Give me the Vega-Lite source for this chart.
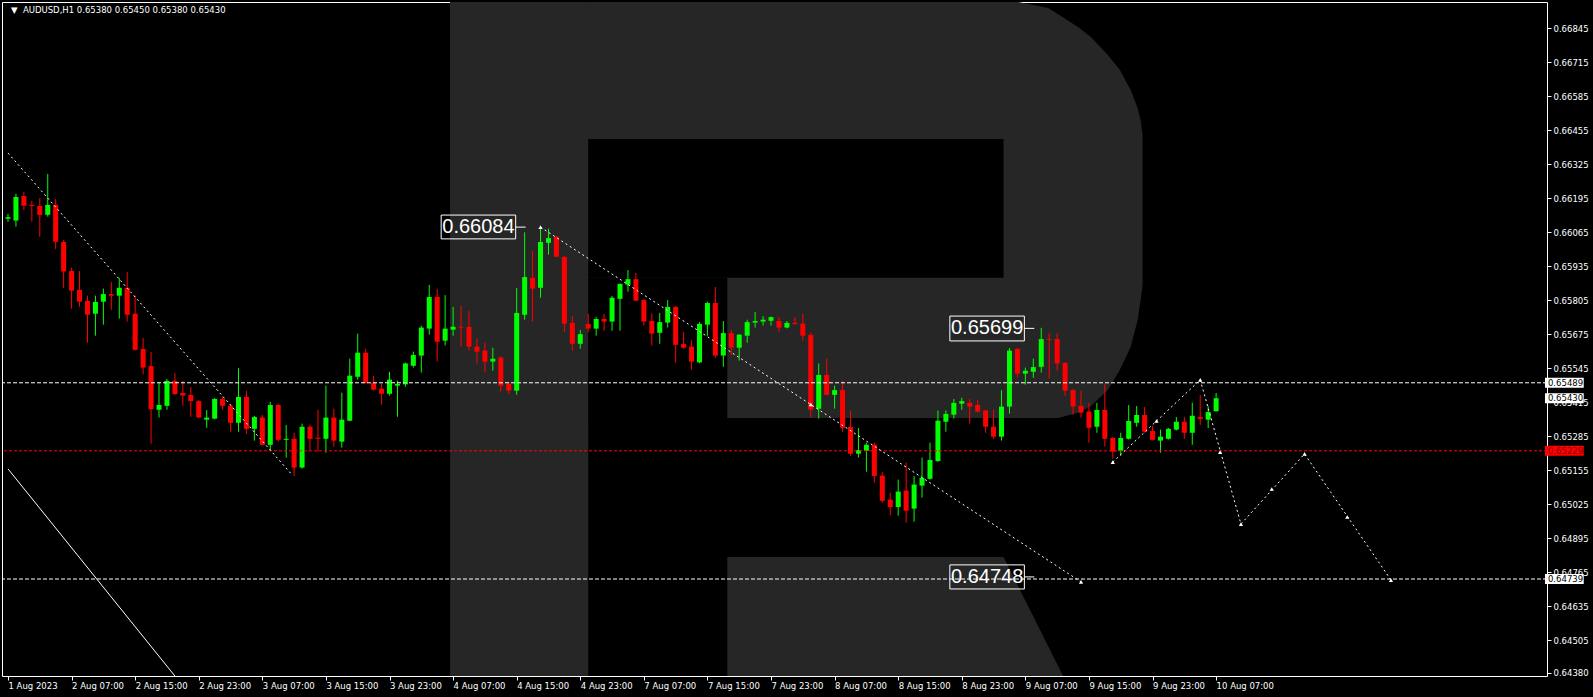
{
"$schema": "https://vega.github.io/schema/vega-lite/v6.json",
"width": 1545, "height": 674,
"autosize": {"type": "none"},
"padding": {"left": 2, "top": 2, "right": 46, "bottom": 21},
"background": "#000000",
"config": {"view": {"stroke": "#ffffff", "strokeWidth": 1},
 "axis": {"labelColor":"#ffffff","tickColor":"#ffffff","tickSize":4,"labelFont":"DejaVu Sans","labelFontSize":8.5,"domain":false,"grid":false,"labelOverlap":false,"labelFlush":false,"titleFontSize":0}},
"datasets": {
"candles": [
{"i":0,"o":0.66116,"h":0.66134,"l":0.66104,"c":0.66122},
{"i":1,"o":0.66109,"h":0.66211,"l":0.66086,"c":0.66199},
{"i":2,"o":0.66203,"h":0.66218,"l":0.66149,"c":0.66166},
{"i":3,"o":0.66169,"h":0.66184,"l":0.66105,"c":0.66165},
{"i":4,"o":0.66165,"h":0.66195,"l":0.66047,"c":0.66131},
{"i":5,"o":0.66131,"h":0.66287,"l":0.66124,"c":0.66169},
{"i":6,"o":0.66169,"h":0.66191,"l":0.66000,"c":0.66028},
{"i":7,"o":0.66027,"h":0.66035,"l":0.65852,"c":0.65914},
{"i":8,"o":0.65916,"h":0.65929,"l":0.65772,"c":0.65841},
{"i":9,"o":0.65844,"h":0.65916,"l":0.65780,"c":0.65799},
{"i":10,"o":0.65802,"h":0.65822,"l":0.65642,"c":0.65749},
{"i":11,"o":0.65753,"h":0.65822,"l":0.65669,"c":0.65798},
{"i":12,"o":0.65799,"h":0.65849,"l":0.65711,"c":0.65828},
{"i":13,"o":0.65828,"h":0.65874,"l":0.65768,"c":0.65822},
{"i":14,"o":0.65822,"h":0.65890,"l":0.65734,"c":0.65852},
{"i":15,"o":0.65852,"h":0.65912,"l":0.65723,"c":0.65749},
{"i":16,"o":0.65753,"h":0.65823,"l":0.65612,"c":0.65615},
{"i":17,"o":0.65618,"h":0.65660,"l":0.65521,"c":0.65547},
{"i":18,"o":0.65553,"h":0.65607,"l":0.65256,"c":0.65388},
{"i":19,"o":0.65386,"h":0.65492,"l":0.65356,"c":0.65404},
{"i":20,"o":0.65401,"h":0.65504,"l":0.65386,"c":0.65496},
{"i":21,"o":0.65496,"h":0.65526,"l":0.65443,"c":0.65446},
{"i":22,"o":0.65450,"h":0.65496,"l":0.65401,"c":0.65440},
{"i":23,"o":0.65442,"h":0.65473,"l":0.65359,"c":0.65419},
{"i":24,"o":0.65419,"h":0.65423,"l":0.65354,"c":0.65356},
{"i":25,"o":0.65348,"h":0.65385,"l":0.65317,"c":0.65356},
{"i":26,"o":0.65352,"h":0.65431,"l":0.65349,"c":0.65427},
{"i":27,"o":0.65427,"h":0.65435,"l":0.65386,"c":0.65401},
{"i":28,"o":0.65400,"h":0.65408,"l":0.65302,"c":0.65336},
{"i":29,"o":0.65336,"h":0.65545,"l":0.65302,"c":0.65435},
{"i":30,"o":0.65435,"h":0.65458,"l":0.65294,"c":0.65313},
{"i":31,"o":0.65313,"h":0.65362,"l":0.65268,"c":0.65358},
{"i":32,"o":0.65356,"h":0.65366,"l":0.65250,"c":0.65252},
{"i":33,"o":0.65252,"h":0.65416,"l":0.65229,"c":0.65404},
{"i":34,"o":0.65404,"h":0.65408,"l":0.65264,"c":0.65271},
{"i":35,"o":0.65271,"h":0.65328,"l":0.65203,"c":0.65275},
{"i":36,"o":0.65275,"h":0.65298,"l":0.65133,"c":0.65165},
{"i":37,"o":0.65165,"h":0.65333,"l":0.65161,"c":0.65321},
{"i":38,"o":0.65321,"h":0.65329,"l":0.65232,"c":0.65275},
{"i":39,"o":0.65279,"h":0.65386,"l":0.65226,"c":0.65275},
{"i":40,"o":0.65275,"h":0.65478,"l":0.65222,"c":0.65356},
{"i":41,"o":0.65356,"h":0.65390,"l":0.65245,"c":0.65268},
{"i":42,"o":0.65264,"h":0.65451,"l":0.65241,"c":0.65348},
{"i":43,"o":0.65344,"h":0.65581,"l":0.65342,"c":0.65516},
{"i":44,"o":0.65512,"h":0.65677,"l":0.65501,"c":0.65604},
{"i":45,"o":0.65604,"h":0.65619,"l":0.65486,"c":0.65488},
{"i":46,"o":0.65489,"h":0.65516,"l":0.65459,"c":0.65463},
{"i":47,"o":0.65466,"h":0.65485,"l":0.65405,"c":0.65447},
{"i":48,"o":0.65447,"h":0.65531,"l":0.65440,"c":0.65501},
{"i":49,"o":0.65478,"h":0.65497,"l":0.65359,"c":0.65485},
{"i":50,"o":0.65483,"h":0.65566,"l":0.65474,"c":0.65563},
{"i":51,"o":0.65554,"h":0.65608,"l":0.65547,"c":0.65595},
{"i":52,"o":0.65593,"h":0.65707,"l":0.65528,"c":0.65700},
{"i":53,"o":0.65696,"h":0.65863,"l":0.65673,"c":0.65817},
{"i":54,"o":0.65817,"h":0.65847,"l":0.65570,"c":0.65646},
{"i":55,"o":0.65650,"h":0.65824,"l":0.65632,"c":0.65696},
{"i":56,"o":0.65692,"h":0.65779,"l":0.65669,"c":0.65703},
{"i":57,"o":0.65703,"h":0.65783,"l":0.65627,"c":0.65700},
{"i":58,"o":0.65703,"h":0.65763,"l":0.65612,"c":0.65627},
{"i":59,"o":0.65627,"h":0.65658,"l":0.65563,"c":0.65608},
{"i":60,"o":0.65612,"h":0.65641,"l":0.65528,"c":0.65570},
{"i":61,"o":0.65570,"h":0.65623,"l":0.65535,"c":0.65581},
{"i":62,"o":0.65585,"h":0.65591,"l":0.65455,"c":0.65478},
{"i":63,"o":0.65485,"h":0.65493,"l":0.65447,"c":0.65459},
{"i":64,"o":0.65459,"h":0.65851,"l":0.65443,"c":0.65756},
{"i":65,"o":0.65749,"h":0.66064,"l":0.65730,"c":0.65893},
{"i":66,"o":0.65890,"h":0.65993,"l":0.65723,"c":0.65849},
{"i":67,"o":0.65852,"h":0.66084,"l":0.65814,"c":0.66027},
{"i":68,"o":0.66024,"h":0.66078,"l":0.65979,"c":0.66042},
{"i":69,"o":0.66047,"h":0.66052,"l":0.65969,"c":0.65971},
{"i":70,"o":0.65970,"h":0.65974,"l":0.65684,"c":0.65715},
{"i":71,"o":0.65718,"h":0.65744,"l":0.65612,"c":0.65638},
{"i":72,"o":0.65638,"h":0.65691,"l":0.65619,"c":0.65675},
{"i":73,"o":0.65714,"h":0.65752,"l":0.65684,"c":0.65696},
{"i":74,"o":0.65696,"h":0.65740,"l":0.65669,"c":0.65733},
{"i":75,"o":0.65733,"h":0.65752,"l":0.65688,"c":0.65723},
{"i":76,"o":0.65723,"h":0.65821,"l":0.65688,"c":0.65814},
{"i":77,"o":0.65810,"h":0.65868,"l":0.65688,"c":0.65867},
{"i":78,"o":0.65864,"h":0.65920,"l":0.65837,"c":0.65885},
{"i":79,"o":0.65885,"h":0.65909,"l":0.65801,"c":0.65803},
{"i":80,"o":0.65805,"h":0.65809,"l":0.65708,"c":0.65723},
{"i":81,"o":0.65725,"h":0.65754,"l":0.65631,"c":0.65677},
{"i":82,"o":0.65680,"h":0.65756,"l":0.65638,"c":0.65721},
{"i":83,"o":0.65719,"h":0.65805,"l":0.65700,"c":0.65779},
{"i":84,"o":0.65779,"h":0.65783,"l":0.65566,"c":0.65634},
{"i":85,"o":0.65637,"h":0.65683,"l":0.65619,"c":0.65623},
{"i":86,"o":0.65627,"h":0.65652,"l":0.65539,"c":0.65570},
{"i":87,"o":0.65567,"h":0.65721,"l":0.65564,"c":0.65714},
{"i":88,"o":0.65711,"h":0.65799,"l":0.65669,"c":0.65794},
{"i":89,"o":0.65794,"h":0.65855,"l":0.65585,"c":0.65593},
{"i":90,"o":0.65593,"h":0.65725,"l":0.65550,"c":0.65679},
{"i":91,"o":0.65679,"h":0.65691,"l":0.65593,"c":0.65623},
{"i":92,"o":0.65623,"h":0.65675,"l":0.65574,"c":0.65673},
{"i":93,"o":0.65669,"h":0.65730,"l":0.65642,"c":0.65721},
{"i":94,"o":0.65719,"h":0.65760,"l":0.65700,"c":0.65725},
{"i":95,"o":0.65723,"h":0.65744,"l":0.65708,"c":0.65730},
{"i":96,"o":0.65726,"h":0.65742,"l":0.65708,"c":0.65740},
{"i":97,"o":0.65725,"h":0.65740,"l":0.65684,"c":0.65700},
{"i":98,"o":0.65700,"h":0.65725,"l":0.65697,"c":0.65718},
{"i":99,"o":0.65718,"h":0.65740,"l":0.65711,"c":0.65713},
{"i":100,"o":0.65715,"h":0.65753,"l":0.65650,"c":0.65669},
{"i":101,"o":0.65672,"h":0.65680,"l":0.65356,"c":0.65386},
{"i":102,"o":0.65390,"h":0.65563,"l":0.65352,"c":0.65519},
{"i":103,"o":0.65519,"h":0.65581,"l":0.65441,"c":0.65443},
{"i":104,"o":0.65443,"h":0.65478,"l":0.65390,"c":0.65461},
{"i":105,"o":0.65461,"h":0.65496,"l":0.65302,"c":0.65317},
{"i":106,"o":0.65320,"h":0.65381,"l":0.65210,"c":0.65218},
{"i":107,"o":0.65218,"h":0.65316,"l":0.65203,"c":0.65232},
{"i":108,"o":0.65229,"h":0.65260,"l":0.65149,"c":0.65252},
{"i":109,"o":0.65252,"h":0.65260,"l":0.65107,"c":0.65133},
{"i":110,"o":0.65134,"h":0.65149,"l":0.65031,"c":0.65038},
{"i":111,"o":0.65042,"h":0.65069,"l":0.64983,"c":0.65014},
{"i":112,"o":0.65014,"h":0.65119,"l":0.64981,"c":0.65073},
{"i":113,"o":0.65077,"h":0.65184,"l":0.64954,"c":0.65000},
{"i":114,"o":0.65008,"h":0.65133,"l":0.64958,"c":0.65100},
{"i":115,"o":0.65096,"h":0.65203,"l":0.65050,"c":0.65125},
{"i":116,"o":0.65122,"h":0.65260,"l":0.65119,"c":0.65194},
{"i":117,"o":0.65190,"h":0.65383,"l":0.65186,"c":0.65344},
{"i":118,"o":0.65340,"h":0.65383,"l":0.65302,"c":0.65370},
{"i":119,"o":0.65367,"h":0.65427,"l":0.65352,"c":0.65412},
{"i":120,"o":0.65409,"h":0.65432,"l":0.65386,"c":0.65419},
{"i":121,"o":0.65412,"h":0.65427,"l":0.65333,"c":0.65398},
{"i":122,"o":0.65404,"h":0.65423,"l":0.65375,"c":0.65379},
{"i":123,"o":0.65383,"h":0.65386,"l":0.65298,"c":0.65321},
{"i":124,"o":0.65321,"h":0.65386,"l":0.65275,"c":0.65283},
{"i":125,"o":0.65283,"h":0.65461,"l":0.65268,"c":0.65398},
{"i":126,"o":0.65398,"h":0.65622,"l":0.65371,"c":0.65612},
{"i":127,"o":0.65618,"h":0.65622,"l":0.65508,"c":0.65524},
{"i":128,"o":0.65524,"h":0.65547,"l":0.65482,"c":0.65535},
{"i":129,"o":0.65531,"h":0.65581,"l":0.65508,"c":0.65549},
{"i":130,"o":0.65550,"h":0.65699,"l":0.65528,"c":0.65656},
{"i":131,"o":0.65656,"h":0.65679,"l":0.65505,"c":0.65653},
{"i":132,"o":0.65656,"h":0.65679,"l":0.65535,"c":0.65563},
{"i":133,"o":0.65565,"h":0.65568,"l":0.65440,"c":0.65459},
{"i":134,"o":0.65461,"h":0.65466,"l":0.65367,"c":0.65398},
{"i":135,"o":0.65401,"h":0.65459,"l":0.65356,"c":0.65375},
{"i":136,"o":0.65379,"h":0.65412,"l":0.65260,"c":0.65317},
{"i":137,"o":0.65321,"h":0.65412,"l":0.65298,"c":0.65385},
{"i":138,"o":0.65385,"h":0.65484,"l":0.65245,"c":0.65275},
{"i":139,"o":0.65278,"h":0.65282,"l":0.65199,"c":0.65226},
{"i":140,"o":0.65229,"h":0.65298,"l":0.65210,"c":0.65278},
{"i":141,"o":0.65275,"h":0.65404,"l":0.65272,"c":0.65343},
{"i":142,"o":0.65336,"h":0.65400,"l":0.65321,"c":0.65366},
{"i":143,"o":0.65366,"h":0.65396,"l":0.65298,"c":0.65302},
{"i":144,"o":0.65305,"h":0.65324,"l":0.65269,"c":0.65271},
{"i":145,"o":0.65268,"h":0.65310,"l":0.65222,"c":0.65283},
{"i":146,"o":0.65275,"h":0.65316,"l":0.65272,"c":0.65313},
{"i":147,"o":0.65310,"h":0.65358,"l":0.65307,"c":0.65340},
{"i":148,"o":0.65340,"h":0.65359,"l":0.65275,"c":0.65298},
{"i":149,"o":0.65298,"h":0.65413,"l":0.65252,"c":0.65363},
{"i":150,"o":0.65358,"h":0.65442,"l":0.65328,"c":0.65351},
{"i":151,"o":0.65348,"h":0.65400,"l":0.65316,"c":0.65377},
{"i":152,"o":0.65380,"h":0.65450,"l":0.65380,"c":0.65430}
],
"bowl": [
{"x":55.625,"t":0.669444,"b":0.65354},
{"x":127.125,"t":0.669444,"b":0.65354},
{"x":130.875,"t":0.66921,"b":0.65354},
{"x":132.125,"t":0.66898,"b":0.65354},
{"x":134.625,"t":0.66849,"b":0.65374},
{"x":136.25,"t":0.66811,"b":0.654},
{"x":138.375,"t":0.66742,"b":0.65461},
{"x":139.875,"t":0.66685,"b":0.65538},
{"x":141.25,"t":0.66608,"b":0.65626},
{"x":142.125,"t":0.66539,"b":0.65729},
{"x":142.5,"t":0.66493,"b":0.65805},
{"x":142.75,"t":0.66436,"b":0.65863}
],
"stem": [{"x":55.625,"x2":73,"t":0.669444,"b":0.643683}],
"holes": [{"x":73,"x2":125.25,"t":0.66421,"b":0.6589},{"x":73,"x2":90.5,"t":0.6589,"b":0.65354}],
"leg": [{"x":90.5,"t":0.64823,"b":0.643683},{"x":125.25,"t":0.64823,"b":0.643683},{"x":132.75,"t":0.643683,"b":0.643683}],
"hwhite": [{"p":0.65489},{"p":0.64739}],
"hred": [{"p":0.65229}],
"dotted": [
{"g":"a","k":0,"x":0,"p":0.66367},{"g":"a","k":1,"x":35.75,"p":0.65137},
{"g":"b","k":0,"x":67,"p":0.66084},{"g":"b","k":1,"x":135,"p":0.64728},
{"g":"c","k":0,"x":139,"p":0.65186},{"g":"c","k":1,"x":150,"p":0.655},{"g":"c","k":2,"x":155.125,"p":0.64949},{"g":"c","k":3,"x":163.125,"p":0.65217},{"g":"c","k":4,"x":174,"p":0.64735}
],
"solid": [{"k":0,"x":0,"p":0.6516},{"k":1,"x":21,"p":0.643683}],
"markers": [
{"x":67,"p":0.66084},{"x":101,"p":0.65406},{"x":135,"p":0.64728},
{"x":139,"p":0.65186},{"x":144.5,"p":0.65343},{"x":150,"p":0.655},{"x":152.5,"p":0.65224},{"x":155.125,"p":0.64949},{"x":159,"p":0.65083},{"x":163.125,"p":0.65217},{"x":168.5,"p":0.64976},{"x":174,"p":0.64735}
],
"boxes": [
{"x":54.5,"x2":63.875,"t":0.6613,"b":0.66039,"xc":59.19,"p":0.66084,"cx":63.875,"cx2":65.125,"label":"0.66084"},
{"x":118.5,"x2":127.875,"t":0.65744,"b":0.65649,"xc":123.19,"p":0.65697,"cx":127.875,"cx2":129.125,"label":"0.65699"},
{"x":118.5,"x2":127.875,"t":0.64793,"b":0.64701,"xc":123.19,"p":0.64747,"cx":127.875,"cx2":129.125,"label":"0.64748"}
],
"axisw": [
{"p":0.65489,"t":0.65508,"b":0.6547,"label":"0.65489"},
{"p":0.6543,"t":0.65449,"b":0.65411,"label":"0.65430"},
{"p":0.64739,"t":0.64758,"b":0.6472,"label":"0.64739"}
],
"axisr": [{"p":0.65229,"t":0.65248,"b":0.6521,"label":"0.65229"}],
"header": [
{"x":0.375,"p":0.66912,"label":"▼"},
{"x":1.875,"p":0.66912,"label":"AUDUSD,H1  0.65380 0.65450 0.65380 0.65430"}
]
},
"resolve": {"axis": {"x": "independent", "y": "independent"}},
"layer": [
{"data":{"name":"bowl"},"mark":{"type":"area","color":"#262626"},
 "encoding":{"x":{"field":"x","type":"quantitative","scale":{"domain":[-0.125,193],"nice":false,"zero":false},"axis":null},
 "y":{"field":"t","type":"quantitative","scale":{"domain":[0.643683,0.669444],"nice":false,"zero":false},"axis":null},"y2":{"field":"b"}}},
{"data":{"name":"stem"},"mark":{"type":"rect","color":"#262626"},
 "encoding":{"x":{"field":"x","type":"quantitative","scale":{"domain":[-0.125,193],"nice":false,"zero":false},"axis":null},"x2":{"field":"x2"},
 "y":{"field":"t","type":"quantitative","scale":{"domain":[0.643683,0.669444],"nice":false,"zero":false},"axis":null},"y2":{"field":"b"}}},
{"data":{"name":"leg"},"mark":{"type":"area","color":"#262626"},
 "encoding":{"x":{"field":"x","type":"quantitative","scale":{"domain":[-0.125,193],"nice":false,"zero":false},"axis":null},
 "y":{"field":"t","type":"quantitative","scale":{"domain":[0.643683,0.669444],"nice":false,"zero":false},"axis":null},"y2":{"field":"b"}}},
{"data":{"name":"holes"},"mark":{"type":"rect","color":"#000000"},
 "encoding":{"x":{"field":"x","type":"quantitative","scale":{"domain":[-0.125,193],"nice":false,"zero":false},"axis":null},"x2":{"field":"x2"},
 "y":{"field":"t","type":"quantitative","scale":{"domain":[0.643683,0.669444],"nice":false,"zero":false},"axis":null},"y2":{"field":"b"}}},
{"data":{"name":"candles"},"mark":{"type":"rule","strokeWidth":1},
 "encoding":{"x":{"field":"i","type":"quantitative","scale":{"domain":[-0.125,193],"nice":false,"zero":false},"title":null,
   "axis":{"orient":"bottom","values":[0,8,16,24,32,40,48,56,64,72,80,88,96,104,112,120,128,136,144,152],
    "labelExpr":"['1 Aug 2023','2 Aug 07:00','2 Aug 15:00','2 Aug 23:00','3 Aug 07:00','3 Aug 15:00','3 Aug 23:00','4 Aug 07:00','4 Aug 15:00','4 Aug 23:00','7 Aug 07:00','7 Aug 15:00','7 Aug 23:00','8 Aug 07:00','8 Aug 15:00','8 Aug 23:00','9 Aug 07:00','9 Aug 15:00','9 Aug 23:00','10 Aug 07:00'][round(datum.value/8)]",
    "labelAlign":"left","labelPadding":1,"labelColor":"#ffffff","tickColor":"#ffffff","tickSize":4,"labelFont":"DejaVu Sans","labelFontSize":8.5,"domain":false,"grid":false,"labelOverlap":false,"labelFlush":false,"title":null}},
 "y":{"field":"l","type":"quantitative","scale":{"domain":[0.643683,0.669444],"nice":false,"zero":false},"title":null,
   "axis":{"orient":"right","values":[0.66845,0.66715,0.66585,0.66455,0.66325,0.66195,0.66065,0.65935,0.65805,0.65675,0.65545,0.65415,0.65285,0.65155,0.65025,0.64895,0.64765,0.64635,0.64505,0.6438],
    "format":".5f","labelPadding":2,"labelColor":"#ffffff","tickColor":"#ffffff","tickSize":4,"labelFont":"DejaVu Sans","labelFontSize":8.5,"domain":false,"grid":false,"labelOverlap":false,"labelFlush":false,"title":null}},
 "y2":{"field":"h"},
 "color":{"condition":{"test":"datum.c >= datum.o","value":"#00ff00"},"value":"#ff0000"}}},
{"data":{"name":"candles"},"mark":{"type":"bar","size":5},
 "encoding":{"x":{"field":"i","type":"quantitative","scale":{"domain":[-0.125,193],"nice":false,"zero":false},"axis":null},
 "y":{"field":"o","type":"quantitative","scale":{"domain":[0.643683,0.669444],"nice":false,"zero":false},"axis":null},"y2":{"field":"c"},
 "color":{"condition":{"test":"datum.c >= datum.o","value":"#00ff00"},"value":"#ff0000"}}},
{"data":{"name":"hwhite"},"mark":{"type":"rule","color":"#ffffff","strokeWidth":1,"strokeDash":[4,2]},
 "encoding":{"y":{"field":"p","type":"quantitative","scale":{"domain":[0.643683,0.669444],"nice":false,"zero":false},"axis":null}}},
{"data":{"name":"hred"},"mark":{"type":"rule","color":"#ff0000","strokeWidth":1,"strokeDash":[3,2]},
 "encoding":{"y":{"field":"p","type":"quantitative","scale":{"domain":[0.643683,0.669444],"nice":false,"zero":false},"axis":null}}},
{"data":{"name":"dotted"},"mark":{"type":"line","color":"#ffffff","strokeWidth":1,"strokeDash":[2,3]},
 "encoding":{"x":{"field":"x","type":"quantitative","scale":{"domain":[-0.125,193],"nice":false,"zero":false},"axis":null},
 "y":{"field":"p","type":"quantitative","scale":{"domain":[0.643683,0.669444],"nice":false,"zero":false},"axis":null},
 "detail":{"field":"g"},"order":{"field":"k"}}},
{"data":{"name":"solid"},"mark":{"type":"line","color":"#ffffff","strokeWidth":1},
 "encoding":{"x":{"field":"x","type":"quantitative","scale":{"domain":[-0.125,193],"nice":false,"zero":false},"axis":null},
 "y":{"field":"p","type":"quantitative","scale":{"domain":[0.643683,0.669444],"nice":false,"zero":false},"axis":null},
 "order":{"field":"k"}}},
{"data":{"name":"markers"},"mark":{"type":"point","shape":"triangle-up","filled":true,"color":"#ffffff","size":18,"opacity":1},
 "encoding":{"x":{"field":"x","type":"quantitative","scale":{"domain":[-0.125,193],"nice":false,"zero":false},"axis":null},
 "y":{"field":"p","type":"quantitative","scale":{"domain":[0.643683,0.669444],"nice":false,"zero":false},"axis":null}}},
{"data":{"name":"boxes"},"mark":{"type":"rect","filled":false,"stroke":"#ffffff","strokeWidth":1},
 "encoding":{"x":{"field":"x","type":"quantitative","scale":{"domain":[-0.125,193],"nice":false,"zero":false},"axis":null},"x2":{"field":"x2"},
 "y":{"field":"t","type":"quantitative","scale":{"domain":[0.643683,0.669444],"nice":false,"zero":false},"axis":null},"y2":{"field":"b"}}},
{"data":{"name":"boxes"},"mark":{"type":"rule","color":"#ffffff","strokeWidth":1},
 "encoding":{"x":{"field":"cx","type":"quantitative","scale":{"domain":[-0.125,193],"nice":false,"zero":false},"axis":null},"x2":{"field":"cx2"},
 "y":{"field":"p","type":"quantitative","scale":{"domain":[0.643683,0.669444],"nice":false,"zero":false},"axis":null}}},
{"data":{"name":"boxes"},"mark":{"type":"text","color":"#ffffff","font":"Liberation Sans","fontSize":20,"align":"center","baseline":"middle"},
 "encoding":{"x":{"field":"xc","type":"quantitative","scale":{"domain":[-0.125,193],"nice":false,"zero":false},"axis":null},
 "y":{"field":"p","type":"quantitative","scale":{"domain":[0.643683,0.669444],"nice":false,"zero":false},"axis":null},
 "text":{"field":"label"}}},
{"data":{"name":"axisw"},"mark":{"type":"rect","color":"#ffffff"},
 "encoding":{"x":{"datum":193.375,"type":"quantitative","scale":{"domain":[-0.125,193],"nice":false,"zero":false},"axis":null},"x2":{"datum":198.25},
 "y":{"field":"t","type":"quantitative","scale":{"domain":[0.643683,0.669444],"nice":false,"zero":false},"axis":null},"y2":{"field":"b"}}},
{"data":{"name":"axisw"},"mark":{"type":"text","color":"#000000","font":"DejaVu Sans","fontSize":8.5,"align":"left","baseline":"middle"},
 "encoding":{"x":{"datum":193.75,"type":"quantitative","scale":{"domain":[-0.125,193],"nice":false,"zero":false},"axis":null},
 "y":{"field":"p","type":"quantitative","scale":{"domain":[0.643683,0.669444],"nice":false,"zero":false},"axis":null},
 "text":{"field":"label"}}},
{"data":{"name":"axisr"},"mark":{"type":"rect","color":"#ff0000"},
 "encoding":{"x":{"datum":193.375,"type":"quantitative","scale":{"domain":[-0.125,193],"nice":false,"zero":false},"axis":null},"x2":{"datum":198.25},
 "y":{"field":"t","type":"quantitative","scale":{"domain":[0.643683,0.669444],"nice":false,"zero":false},"axis":null},"y2":{"field":"b"}}},
{"data":{"name":"axisr"},"mark":{"type":"text","color":"#7a0000","font":"DejaVu Sans","fontSize":8.5,"align":"left","baseline":"middle"},
 "encoding":{"x":{"datum":193.75,"type":"quantitative","scale":{"domain":[-0.125,193],"nice":false,"zero":false},"axis":null},
 "y":{"field":"p","type":"quantitative","scale":{"domain":[0.643683,0.669444],"nice":false,"zero":false},"axis":null},
 "text":{"field":"label"}}},
{"data":{"name":"header"},"mark":{"type":"text","color":"#ffffff","font":"DejaVu Sans","fontSize":8.5,"align":"left","baseline":"middle"},
 "encoding":{"x":{"field":"x","type":"quantitative","scale":{"domain":[-0.125,193],"nice":false,"zero":false},"axis":null},
 "y":{"field":"p","type":"quantitative","scale":{"domain":[0.643683,0.669444],"nice":false,"zero":false},"axis":null},
 "text":{"field":"label"}}}
]
}
